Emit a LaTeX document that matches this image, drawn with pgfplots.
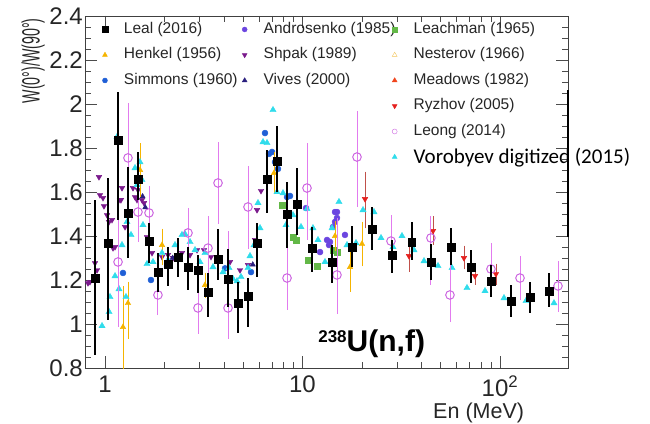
\documentclass[border=0pt]{standalone}
\usepackage{pgfplots}
\pgfplotsset{compat=1.18}
\usepackage{fontspec}
\setmainfont{Liberation Sans}
\newfontfamily\carlito{Carlito}
\definecolor{cHenkel}{HTML}{F5B400}
\definecolor{cSimmons}{HTML}{1F5FD6}
\definecolor{cAndro}{HTML}{6B45E0}
\definecolor{cShpak}{HTML}{7A1A8C}
\definecolor{cVives}{HTML}{2A1F7E}
\definecolor{cLeach}{HTML}{63B847}
\definecolor{cNest}{HTML}{F2C45A}
\definecolor{cMead}{HTML}{F0441C}
\definecolor{cRyz}{HTML}{E5201E}
\definecolor{cRyzBar}{HTML}{C0504A}
\definecolor{cLeong}{HTML}{CC66E0}
\definecolor{cLeongBar}{HTML}{E27BEF}
\definecolor{cVoro}{HTML}{2FDCEB}
\begin{document}
\begin{tikzpicture}
\path[use as bounding box] (-85bp,-56bp) rectangle (565bp,368bp);
\begin{axis}[
  scale only axis, width=483bp, height=352bp,
  at={(0,0)}, anchor=south west,
  xmode=log, xmin=0.792, xmax=221, ymin=0.8, ymax=2.4,
  clip mode=individual,
  axis line style={black!75},
  tick align=inside, xtick pos=both, ytick pos=both,
  major tick length=12bp, minor tick length=6bp,
  tick style={black!70},
  xtick={1,10,100}, xticklabels={1,10,10\textsuperscript{2}},
  ytick={0.8,1,1.2,1.4,1.6,1.8,2,2.2,2.4},
  minor y tick num=3,
  /pgf/number format/assume math mode=true,
  ticklabel style={font=\fontsize{24bp}{26bp}\selectfont, text=black!85},
  xticklabel style={inner sep=1bp, yshift=-7bp},
  yticklabel style={inner sep=2bp},
  xlabel={En (MeV)},
  xlabel style={at={(axis description cs:0.815,-0.129)}, anchor=center, inner sep=0pt, font=\fontsize{21.5bp}{23bp}\selectfont, text=black!85},
  ylabel={\scalebox{0.57}[1]{W(0°)/W(90°)}},
  ylabel style={at={(axis description cs:-0.083,0.994)}, anchor=south east, inner sep=0pt, font=\fontsize{25bp}{27bp}\selectfont, text=black!85},
  legend cell align=left,
  legend columns=3,
  legend image code/.code={\draw[#1] plot coordinates {(0bp,0bp)}; \path[draw=none,fill=none] (-5bp,-3bp) rectangle (17bp,3bp);},
  legend style={at={(axis description cs:0.031,0.988)}, anchor=north west, draw=none, fill=none,
    inner sep=0pt, outer sep=0pt, row sep=7bp, column sep=0bp,
    font=\fontsize{15.5bp}{18bp}\selectfont, text=black!85,
    nodes={inner sep=2bp, text height=11bp, text depth=3.5bp}},
]
% Shpak (1989)
\addplot[forget plot, only marks, mark=triangle*, mark size=3.2bp, color=cShpak, mark options={rotate=180}] table {
x y
0.820 1.186
0.839 1.191
0.890 1.277
0.911 1.245
0.932 1.668
0.943 1.586
0.977 1.573
0.988 1.536
1.024 1.495
1.048 1.464
1.085 1.473
1.098 1.345
1.124 1.350
1.191 1.564
1.205 1.564
1.219 1.618
1.263 1.441
1.386 1.618
1.419 1.577
1.452 1.564
1.469 1.609
1.539 1.564
1.576 1.550
1.632 1.395
1.730 1.323
1.944 1.305
2.084 1.314
2.210 1.300
2.454 1.323
2.695 1.314
2.923 1.336
3.171 1.336
3.441 1.305
3.822 1.300
4.295 1.282
4.826 1.245
5.298 1.268
5.748 1.382
5.885 1.518
6.166 1.605
};
% Vives (2000)
\addplot[forget plot, only marks, mark=triangle*, mark size=3bp, color=cVives] table {
x y
1.55 1.58
1.60 1.53
2.20 1.30
5.60 1.27
};
% Androsenko (1985)
\addplot[forget plot, only marks, mark=*, mark size=3bp, color=cAndro] table {
x y
10.42 1.527
12.27 1.327
13.31 1.382
13.62 1.359
13.78 1.373
14.27 1.441
14.61 1.464
14.61 1.509
14.95 1.482
14.95 1.509
16.41 1.405
};
% Simmons (1960)
\addplot[forget plot, only marks, mark=*, mark size=3bp, color=cSimmons] table {
x y
1.233 1.232
1.709 1.200
4.052 1.253
5.486 1.236
6.458 1.868
6.768 1.773
7.009 1.782
7.258 1.736
7.515 1.705
8.350 1.577
8.646 1.582
};
% Leachman (1965)
\addplot[forget plot, only marks, mark=square*, mark size=3.2bp, color=cLeach] table {
x y
7.873 1.541
8.953 1.395
9.270 1.382
10.66 1.291
11.84 1.264
14.27 1.336
14.95 1.327
};
% Henkel (1956)
\addplot[forget plot, only marks, mark=triangle*, mark size=3.2bp, color=cHenkel,
  error bars/.cd, y dir=both, y explicit, error bar style={line width=0.8bp, cHenkel}, error mark=-, error mark options={mark size=1.5bp, cHenkel}]
  table[x=x, y=y, y error plus=ep, y error minus=em] {
x y ep em
1.233 0.986 0.18 0.30
1.307 1.095 0.091 0.155
1.504 1.700 0.114 0.114
1.944 1.359 0.068 0.082
3.208 1.177 0.05 0.05
7.172 1.686 0.09 0.09
14.61 1.400 0.06 0.06
17.40 1.259 0.077 0.105
20.01 1.364 0.095 0.095
};
% Ryzhov (2005)
\addplot[forget plot, only marks, mark=triangle*, mark size=3.2bp, color=cRyz, mark options={rotate=180},
  error bars/.cd, y dir=both, y explicit, error bar style={line width=0.8bp, cRyzBar}, error mark=-, error mark options={mark size=1.5bp, cRyzBar}]
  table[x=x, y=y, y error plus=ep, y error minus=em] {
x y ep em
20.73 1.568 0.118 0.127
34.62 1.309 0.073 0.064
45.80 1.423 0.059 0.055
65.70 1.300 0.050 0.045
74.70 1.218 0.041 0.032
95.40 1.227 0.041 0.041
};
% Vorobyev digitized (2015)
\addplot[forget plot, only marks, mark=triangle*, mark size=3.6bp, color=cVoro] table {
x y
0.966 0.991
1.048 1.055
1.060 1.123
1.124 1.218
1.150 1.850
1.177 1.159
1.219 1.359
1.277 1.123
1.292 1.464
1.354 1.405
1.419 1.709
1.452 1.632
1.504 1.736
1.539 1.655
1.557 1.450
1.632 1.273
1.750 1.282
1.944 1.323
2.084 1.291
2.262 1.359
2.454 1.405
2.542 1.409
2.695 1.373
2.856 1.336
3.027 1.282
3.208 1.323
3.523 1.259
3.735 1.282
3.958 1.236
4.245 1.255
4.447 1.205
4.660 1.195
4.883 1.214
5.298 1.255
5.423 1.309
5.682 1.359
5.953 1.550
6.094 1.436
6.310 1.827
6.611 1.823
7.090 1.973
7.429 1.600
7.966 1.595
8.251 1.450
8.953 1.495
9.827 1.441
10.54 1.523
11.30 1.436
11.98 1.382
13.00 1.282
14.11 1.436
15.30 1.555
16.80 1.359
18.66 1.368
20.25 1.518
23.01 1.509
24.98 1.391
28.72 1.350
31.90 1.400
36.70 1.336
41.23 1.286
48.54 1.264
57.15 1.255
68.07 1.164
83.98 1.150
104.8 1.118
135.4 1.105
187.7 1.095
};
% Leong (2014)
\addplot[forget plot, only marks, mark=o, mark size=4.3bp, color=cLeong, mark options={line width=1bp},
  error bars/.cd, y dir=both, y explicit, error bar style={line width=0.9bp, cLeongBar}, error mark=-, error mark options={mark size=2bp, line width=0.9bp, cLeongBar}]
  table[x=x, y=y, y error plus=ep, y error minus=em] {
x y ep em
1.164 1.282 0.200 0.286
1.307 1.755 0.241 0.214
1.469 1.509 0.100 0.127
1.670 1.505 0.114 0.123
1.854 1.132 0.091 0.082
2.632 1.414 0.105 0.123
2.956 1.073 0.114 0.109
3.323 1.345 0.136 0.123
3.735 1.641 0.177 0.177
4.197 1.073 0.341 0.132
5.297 1.532 0.177 0.182
8.350 1.209 0.250 0.136
10.54 1.618 0.195 0.227
14.95 1.223 0.250 0.168
18.88 1.759 0.200 0.218
28.06 1.377 0.109 0.132
44.70 1.391 0.091 0.205
55.80 1.132 0.136 0.114
90.00 1.250 0.109 0.118
126.3 1.209 0.091 0.091
196.7 1.173 0.105 0.109
};
% Leal (2016)
\addplot[forget plot, only marks, mark=square*, mark size=3.8bp, color=black,
  error bars/.cd, y dir=both, y explicit, error bar style={line width=2.6bp, black}, error mark=none]
  table[x=x, y=y, y error plus=ep, y error minus=em] {
x y ep em
0.890 1.209 0.355 0.350
1.036 1.368 0.295 0.350
1.164 1.836 0.218 0.364
1.307 1.505 0.209 0.205
1.469 1.659 0.123 0.095
1.670 1.377 0.082 0.100
1.854 1.236 0.086 0.091
2.084 1.273 0.077 0.100
2.343 1.305 0.086 0.090
2.632 1.259 0.091 0.105
2.956 1.245 0.068 0.105
3.323 1.145 0.086 0.114
3.735 1.295 0.136 0.095
4.197 1.205 0.136 0.127
4.714 1.095 0.095 0.136
5.297 1.127 0.082 0.141
5.885 1.368 0.091 0.155
6.610 1.659 0.132 0.155
7.430 1.741 0.159 0.141
8.350 1.500 0.145 0.155
9.380 1.545 0.164 0.141
11.17 1.345 0.095 0.109
14.10 1.282 0.077 0.095
17.80 1.350 0.095 0.091
22.50 1.432 0.100 0.095
28.40 1.314 0.068 0.082
35.80 1.373 0.091 0.082
44.70 1.282 0.082 0.082
56.50 1.350 0.086 0.082
71.30 1.259 0.077 0.073
90.00 1.195 0.073 0.073
113.7 1.105 0.073 0.073
141.9 1.123 0.068 0.073
177.0 1.150 0.082 0.073
};
% legend (row-wise order, 3 columns)
\addlegendimage{only marks, mark=square*, black, mark size=2.8bp}
\addlegendentry{\makebox[112bp][l]{Leal (2016)}}
\addlegendimage{only marks, mark=*, cAndro, mark size=2.5bp}
\addlegendentry{\makebox[124bp][l]{Androsenko (1985)}}
\addlegendimage{only marks, mark=square*, cLeach, mark size=2.5bp}
\addlegendentry{Leachman (1965)}
\addlegendimage{only marks, mark=triangle*, cHenkel, mark size=2.8bp}
\addlegendentry{Henkel (1956)}
\addlegendimage{only marks, mark=triangle*, cShpak, mark size=2.8bp, mark options={rotate=180}}
\addlegendentry{Shpak (1989)}
\addlegendimage{only marks, mark=triangle, cNest, mark size=2.8bp}
\addlegendentry{Nesterov (1966)}
\addlegendimage{only marks, mark=*, cSimmons, mark size=2.5bp}
\addlegendentry{Simmons (1960)}
\addlegendimage{only marks, mark=triangle*, cVives, mark size=2.8bp}
\addlegendentry{Vives (2000)}
\addlegendimage{only marks, mark=triangle*, cMead, mark size=2.8bp}
\addlegendentry{Meadows (1982)}
\addlegendimage{empty legend}\addlegendentry{}
\addlegendimage{empty legend}\addlegendentry{}
\addlegendimage{only marks, mark=triangle*, cRyz, mark size=2.8bp, mark options={rotate=180}}
\addlegendentry{Ryzhov (2005)}
\addlegendimage{empty legend}\addlegendentry{}
\addlegendimage{empty legend}\addlegendentry{}
\addlegendimage{only marks, mark=o, cLeong, mark size=2.5bp}
\addlegendentry{Leong (2014)}
\addlegendimage{empty legend}\addlegendentry{}
\addlegendimage{empty legend}\addlegendentry{}
\addlegendimage{only marks, mark=triangle*, cVoro, mark size=2.8bp}
\addlegendentry{\raisebox{-3bp}{\color{black}\carlito\fontsize{21bp}{24bp}\selectfont Vorobyev digitized (2015)}}
% annotation
\node[anchor=base west, inner sep=0pt, font=\bfseries\fontsize{30bp}{32bp}\selectfont] at (axis cs:12.0,0.873)
  {{\fontsize{17bp}{17bp}\selectfont\raisebox{9.5bp}{238}}U(n,f)};
\coordinate (vlA) at (rel axis cs:1,0.372);
\coordinate (vlB) at (rel axis cs:1,0.79);
\end{axis}
\draw[line width=2bp, black] (vlA) -- (vlB);
\end{tikzpicture}
\end{document}
